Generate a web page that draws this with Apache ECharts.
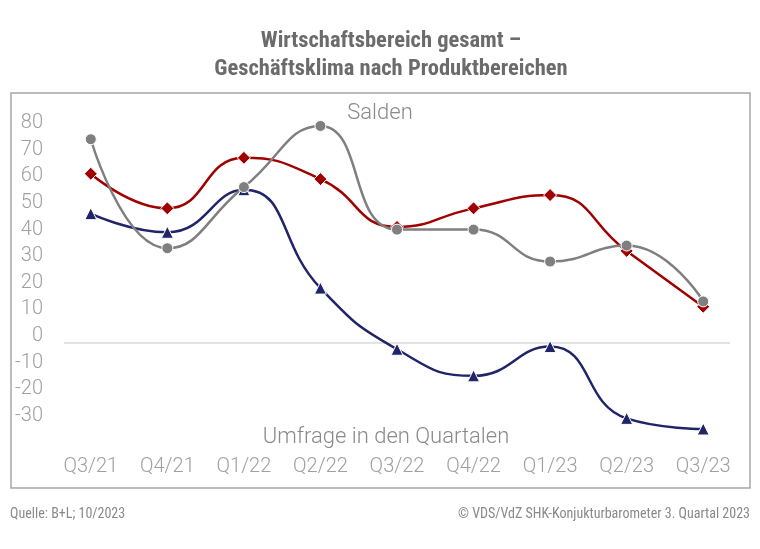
<!DOCTYPE html>
<html>
<head>
<meta charset="utf-8">
<script src="https://cdn.jsdelivr.net/npm/echarts@6/dist/echarts.min.js"></script>
<style>
html,body{margin:0;padding:0;background:#fff;}
#chart{width:760px;height:549px;}
</style>
</head>
<body>
<div id="chart"></div>
<script>
const categories = ['Q3/21','Q4/21','Q1/22','Q2/22','Q3/22','Q4/22','Q1/23','Q2/23','Q3/23'];
const redValues  = [61, 48, 67, 59, 41, 48, 53, 32, 11];
const grayValues = [74, 33, 56, 79, 40, 40, 28, 34, 13];
const blueValues = [46, 39, 55, 18, -5, -15, -4, -31, -35];
const yTickLabels = [-30, -20, -10, 0, 10, 20, 30, 40, 50, 60, 70, 80];

const toPairs = arr => arr.map((v, i) => [i, v]);
const labelFont = "Roboto";
const condFont = "'Roboto Condensed','Liberation Sans Narrow','DejaVu Sans Condensed',Roboto";
const chart = echarts.init(document.getElementById('chart'), null, {renderer: 'canvas'});

const baseSeries = (name, data, color, symbol, size) => ({
  name, type: 'line', data: toPairs(data), smooth: 0.5,
  symbol, symbolSize: size,
  lineStyle: {color, width: 2.5},
  itemStyle: {color, borderColor: '#fff', borderWidth: 1},
  z: 3
});

const blue = baseSeries('Blau', blueValues, '#1f2568', 'triangle', 12);
blue.markLine = {
  silent: true, symbol: 'none', label: {show: false},
  lineStyle: {color: '#d9d9d9', width: 1.5, type: 'solid'},
  data: [{yAxis: -2.5}], z: 1
};

chart.setOption({
  animation: false,
  backgroundColor: '#fff',
  graphic: [{
    type: 'rect', shape: {x: 11, y: 93, width: 739, height: 395},
    style: {fill: 'none', stroke: '#a6a6a6', lineWidth: 1.5}, silent: true
  }],
  title: [
    {text: 'Wirtschaftsbereich gesamt –\nGeschäftsklima nach Produktbereichen', left: 386, textAlign: 'center', top: 22,
     textStyle: {fontFamily: condFont, fontSize: 22.5, fontWeight: 'bold', color: '#6b6b6b', lineHeight: 28}},
    {text: 'Salden', left: 'center', top: 97,
     textStyle: {fontFamily: labelFont, fontSize: 22, fontWeight: 300, color: '#8a8a8a'}},
    {text: 'Umfrage in den Quartalen', left: 381, textAlign: 'center', top: 421,
     textStyle: {fontFamily: labelFont, fontSize: 22, fontWeight: 300, color: '#8a8a8a'}},
    {text: 'Quelle: B+L; 10/2023', left: 5, top: 502,
     textStyle: {fontFamily: condFont, fontSize: 14, fontWeight: 'normal', color: '#8a8a8a'}},
    {text: '© VDS/VdZ SHK-Konjukturbarometer 3. Quartal 2023', right: 5, top: 502,
     textStyle: {fontFamily: condFont, fontSize: 14, fontWeight: 'normal', color: '#8a8a8a'}}
  ],
  grid: {left: 64, right: 30, top: 96.7, bottom: 106.7, containLabel: false},
  xAxis: {
    type: 'value', min: -0.35, max: 8.35,
    axisLine: {show: false}, axisTick: {show: false}, splitLine: {show: false},
    axisLabel: {
      customValues: categories.map((c, i) => i),
      formatter: v => categories[Math.round(v)] || '',
      fontFamily: labelFont, fontSize: 20, fontWeight: 300, color: '#a0a0a0', margin: 15
    }
  },
  yAxis: {
    type: 'value', min: -40, max: 90, interval: 10,
    axisLine: {show: false}, axisTick: {show: false}, splitLine: {show: false},
    axisLabel: {
      formatter: v => yTickLabels.includes(v) ? String(v) : '',
      fontFamily: labelFont, fontSize: 20, fontWeight: 300, color: '#a0a0a0', margin: 21
    }
  },
  series: [
    blue,
    baseSeries('Rot', redValues, '#a00000', 'diamond', 13),
    baseSeries('Grau', grayValues, '#7f7f7f', 'circle', 11)
  ]
});
</script>
</body>
</html>
